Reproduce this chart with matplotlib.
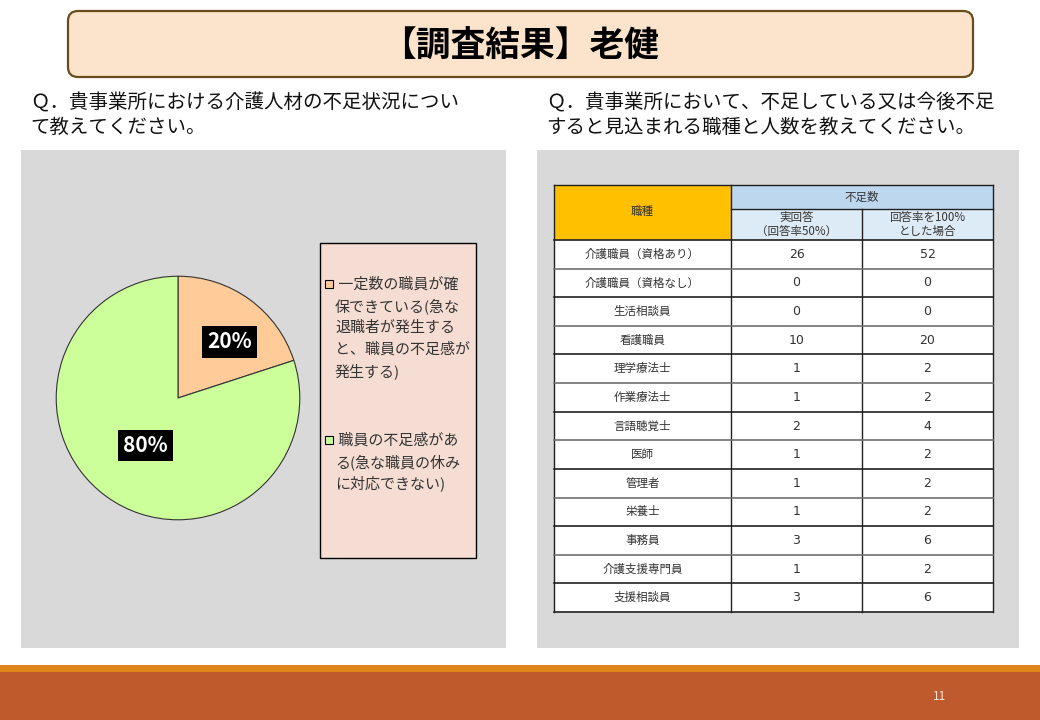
import matplotlib
matplotlib.use("Agg")
import matplotlib.pyplot as plt
from matplotlib.patches import Rectangle, FancyBboxPatch

plt.rcParams['font.family'] = ['Noto Sans CJK JP', 'DejaVu Sans']

# ---- data ----
title = "【調査結果】老健"
q_left = ["Ｑ．貴事業所における介護人材の不足状況につい", "て教えてください。"]
q_right = ["Ｑ．貴事業所において、不足している又は今後不足", "すると見込まれる職種と人数を教えてください。"]

pie_labels = ["一定数の職員が確保できている(急な退職者が発生すると、職員の不足感が発生する)",
              "職員の不足感がある(急な職員の休みに対応できない)"]
pie_legend_lines = [[" 一定数の職員が確", "保できている(急な", "退職者が発生する", "と、職員の不足感が", "発生する)"],
                    [" 職員の不足感があ", "る(急な職員の休み", "に対応できない)"]]
pie_values = [20, 80]
pie_colors = ["#FFCC99", "#CCFF99"]

table_header_main = "職種"
table_header_group = "不足数"
table_sub_headers = ["実回答\n（回答率50%）", "回答率を100%\nとした場合"]
job_types = ["介護職員（資格あり）", "介護職員（資格なし）", "生活相談員", "看護職員", "理学療法士",
             "作業療法士", "言語聴覚士", "医師", "管理者", "栄養士", "事務員", "介護支援専門員", "支援相談員"]
actual_counts = [26, 0, 0, 10, 1, 1, 2, 1, 1, 1, 3, 1, 3]
full_counts = [52, 0, 0, 20, 2, 2, 4, 2, 2, 2, 6, 2, 6]
page_number = "11"

# ---- figure ----
W, H = 1040, 720
fig = plt.figure(figsize=(W / 100, H / 100), dpi=100)
fig.patch.set_facecolor("white")
bg = fig.add_axes([0, 0, 1, 1])
bg.set_xlim(0, W)
bg.set_ylim(H, 0)
bg.axis("off")

# title box
bg.add_patch(FancyBboxPatch((68, 11), 905, 66, boxstyle="round,pad=0,rounding_size=10",
                            facecolor="#FCE4CC", edgecolor="#6B4A1E", linewidth=1.6))
bg.text(520, 45, title, ha="center", va="center", fontsize=25, fontweight="bold", color="black")

# questions
for i, line in enumerate(q_left):
    bg.text(30, 103 + i * 24, line, ha="left", va="center", fontsize=14, color="#111111")
for i, line in enumerate(q_right):
    bg.text(546, 103 + i * 24, line, ha="left", va="center", fontsize=14, color="#111111")

# gray panels
bg.add_patch(Rectangle((21, 150), 485, 498, facecolor="#D9D9D9", edgecolor="none"))
bg.add_patch(Rectangle((537, 150), 482, 498, facecolor="#D9D9D9", edgecolor="none"))

# footer
bg.add_patch(Rectangle((0, 665), W, 7, facecolor="#E0861A", edgecolor="none"))
bg.add_patch(Rectangle((0, 672), W, 48, facecolor="#BE5A2B", edgecolor="none"))
bg.text(940, 697, page_number, ha="center", va="center", fontsize=8.5, color="#F5E6D8")

# legend box
bg.add_patch(Rectangle((320, 243), 156, 315, facecolor="#F5DDD3", edgecolor="black", linewidth=1))
entry_y = [284, 440]
for k, lines in enumerate(pie_legend_lines):
    y0 = entry_y[k]
    bg.add_patch(Rectangle((325, y0 - 4), 8, 8, facecolor=pie_colors[k], edgecolor="black", linewidth=0.8))
    for j, line in enumerate(lines):
        bg.text(335, y0 + j * 21.8, line, ha="left", va="center", fontsize=10.8, color="#333333")

# table
x_cols = [554, 731, 862, 993]
y_h0, y_h1, y_h2 = 185, 209, 240
y_end = 612
n = len(job_types)
rh = (y_end - y_h2) / n
bg.add_patch(Rectangle((x_cols[0], y_h0), x_cols[1] - x_cols[0], y_h2 - y_h0, facecolor="#FFC000", edgecolor="none"))
bg.add_patch(Rectangle((x_cols[1], y_h0), x_cols[3] - x_cols[1], y_h1 - y_h0, facecolor="#BDD7EE", edgecolor="none"))
bg.add_patch(Rectangle((x_cols[1], y_h1), x_cols[3] - x_cols[1], y_h2 - y_h1, facecolor="#DDEBF7", edgecolor="none"))
bg.add_patch(Rectangle((x_cols[0], y_h2), x_cols[3] - x_cols[0], y_end - y_h2, facecolor="white", edgecolor="none"))
lc = "#202020"
bg.plot([x_cols[0], x_cols[0]], [y_h0, y_end], color=lc, lw=1)
bg.plot([x_cols[3], x_cols[3]], [y_h0, y_end], color=lc, lw=1)
bg.plot([x_cols[1], x_cols[1]], [y_h0, y_end], color=lc, lw=1)
bg.plot([x_cols[2], x_cols[2]], [y_h1, y_end], color=lc, lw=1)
bg.plot([x_cols[0], x_cols[3]], [y_h0, y_h0], color=lc, lw=1)
bg.plot([x_cols[1], x_cols[3]], [y_h1, y_h1], color=lc, lw=1)
for i in range(n + 1):
    y = y_h2 + i * rh
    c = lc if i % 2 == 0 or i == n else "#707070"
    bg.plot([x_cols[0], x_cols[3]], [y, y], color=c, lw=1.2)

tfs = 8.3
bg.text((x_cols[0] + x_cols[1]) / 2, 211, table_header_main, ha="center", va="center", fontsize=tfs, color="#333333")
bg.text((x_cols[1] + x_cols[3]) / 2, 197, table_header_group, ha="center", va="center", fontsize=tfs, color="#333333")
for k, sh in enumerate(table_sub_headers):
    bg.text((x_cols[1 + k] + x_cols[2 + k]) / 2, 224.5, sh, ha="center", va="center", fontsize=tfs,
            color="#333333", linespacing=1.15)
for i in range(n):
    yc = y_h2 + (i + 0.5) * rh
    bg.text((x_cols[0] + x_cols[1]) / 2, yc, job_types[i], ha="center", va="center", fontsize=tfs, color="#333333")
    bg.text((x_cols[1] + x_cols[2]) / 2, yc, str(actual_counts[i]), ha="center", va="center",
            fontsize=9, color="#333333", family=["DejaVu Sans"])
    bg.text((x_cols[2] + x_cols[3]) / 2, yc, str(full_counts[i]), ha="center", va="center",
            fontsize=9, color="#333333", family=["DejaVu Sans"])

# pie
cx, cy, r = 178, 398, 123
pax = fig.add_axes([(cx - r) / W, (H - cy - r) / H, 2 * r / W, 2 * r / H])
wedges, texts, autotexts = pax.pie(pie_values, colors=pie_colors, startangle=90, counterclock=False,
                                   autopct="%d%%", pctdistance=0.56,
                                   wedgeprops=dict(edgecolor="#333333", linewidth=0.8))
label_pos = [(0.42, 0.46), (-0.27, -0.39)]
for t, p in zip(autotexts, label_pos):
    t.set_position(p)
    t.set_color("white")
    t.set_fontsize(15)
    t.set_fontweight("bold")
    t.set_bbox(dict(facecolor="black", edgecolor="none", boxstyle="square,pad=0.25"))
pax.set_xlim(-1.01, 1.01)
pax.set_ylim(-1.01, 1.01)
pax.set_aspect("equal")
pax.axis("off")

fig.savefig("out.png", dpi=100, facecolor="white")
